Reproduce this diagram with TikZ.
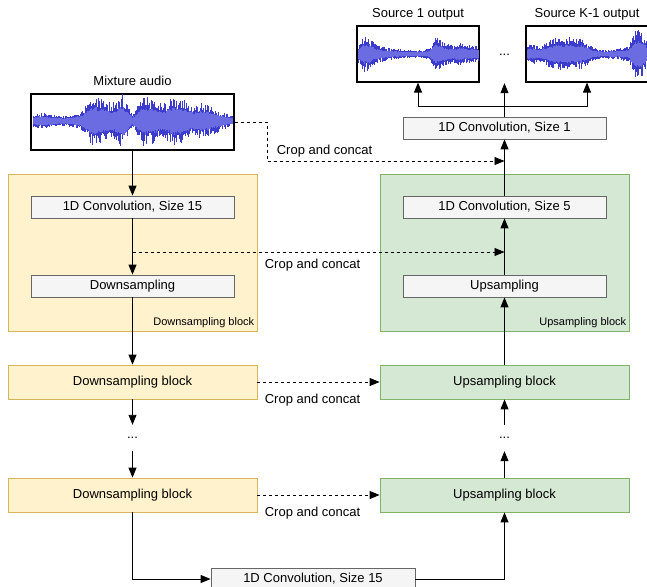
\documentclass[tikz,border=0pt]{standalone}
\usepackage{fontspec}
\setmainfont{Liberation Sans}
\usetikzlibrary{positioning, arrows.meta}

\definecolor{downfill}{HTML}{FFF2CC}
\definecolor{downline}{HTML}{D6B656}
\definecolor{upfill}{HTML}{D5E8D4}
\definecolor{upline}{HTML}{82B366}
\definecolor{convfill}{HTML}{F5F5F5}
\definecolor{convline}{HTML}{666666}
\definecolor{wavepeak}{HTML}{3C3CCC}
\definecolor{waverms}{HTML}{6C6CE2}

% 波形 (x0, x1, y, seed, 包絡線)
\newcommand{\audiowave}[5]{%
  \pgfmathsetseed{#4}
  \def\envlist{#5}
  \foreach \k in {0,...,200} {
    \pgfmathsetmacro{\t}{\k/10}
    \pgfmathtruncatemacro{\j}{min(floor(\t),19)}
    \pgfmathtruncatemacro{\jj}{\j+1}
    \pgfmathsetmacro{\f}{\t-\j}
    \pgfmathsetmacro{\ea}{\envlist[\j]}
    \pgfmathsetmacro{\eb}{\envlist[\jj]}
    \pgfmathsetmacro{\env}{1.3*(\ea*(1-\f)+\eb*\f)}
    \pgfmathsetmacro{\up}{\env*(0.5+0.5*rnd)}
    \pgfmathsetmacro{\dn}{\env*(0.5+0.5*rnd)}
    \pgfmathsetmacro{\ru}{\env*(0.42+0.15*rnd)}
    \pgfmathsetmacro{\rd}{\env*(0.42+0.15*rnd)}
    \pgfmathsetmacro{\xx}{#1+\k/200*(#2-#1)}
    \draw[wavepeak, line width=0.9pt] (\xx,#3-\up) -- (\xx,#3+\dn);
    \draw[waverms, line width=0.9pt] (\xx,#3-\ru) -- (\xx,#3+\rd);
  }
}

\begin{document}
\begin{tikzpicture}[x=1pt, y=-1pt, font=\fontsize{13}{15}\selectfont,
  conv/.style={draw=convline, fill=convfill, line width=0.8pt, minimum width=203pt, minimum height=22pt, inner sep=0pt},
  downarea/.style={draw=downline, fill=downfill, line width=0.8pt, minimum width=249pt, minimum height=157pt, inner sep=0pt},
  uparea/.style={draw=upline, fill=upfill, line width=0.8pt, minimum width=249pt, minimum height=157pt, inner sep=0pt},
  downrow/.style={downarea, minimum height=34pt},
  uprow/.style={uparea, minimum height=34pt},
  audio/.style={draw, line width=1.2pt, minimum height=56pt, inner sep=0pt},
  tag/.style={font=\fontsize{11}{13}\selectfont, anchor=south east, inner sep=3pt},
  dots/.style={minimum height=26pt, inner sep=0pt},
  flow/.style={-{Triangle[length=10pt,width=8pt]}, line width=0.9pt},
  skip/.style={flow, dash pattern=on 3pt off 3pt}]
  \useasboundingbox (0,0) rectangle (647,586);

  % 入力と出力
  \node[audio, minimum width=203pt] (mix) at (132.5,122) {};
  \node (mixlab) at (132.5,81) {Mixture audio};
  \node[audio, minimum width=122pt] (src1) at (418,54) {};
  \node (src1lab) at (418,14) {Source 1 output};
  \node[audio, minimum width=122pt] (srcK) at (587,54) {};
  \node (srcKlab) at (587,14) {Source K-1 output};
  \node[minimum height=56pt, inner sep=0pt] (odots) at (504.5,55) {...};
  \audiowave{33}{232}{121}{11}{{5,7,5,4,5,8,20,17,14,21,5,19,18,13,19,17,12,14,11,7,4}}
  \audiowave{358}{478}{54}{23}{{6,14,12,8,6,5,4,4,3,3,3,3,5,13,11,8,7,9,7,7,6}}
  \audiowave{527}{647}{54}{37}{{6,8,6,8,11,13,12,13,11,12,9,5,4,3,4,4,5,6,18,19,10}}

  % ダウンサンプリング側
  \node[downarea] (dblk) at (132.5,252.5) {};
  \node[tag] at (dblk.south east) {Downsampling block};
  \node[conv] (c15) at (132.5,207) {1D Convolution, Size 15};
  \node[conv] (down) at (132.5,286) {Downsampling};
  \node[downrow] (d1) at (132.5,382) {Downsampling block};
  \node[dots] (ddots) at (132.5,438) {...};
  \node[downrow] (d2) at (132.5,495) {Downsampling block};

  % アップサンプリング側
  \node[uparea] (ublk) at (504.5,252.5) {};
  \node[tag] at (ublk.south east) {Upsampling block};
  \node[conv] (c1) at (504.5,128) {1D Convolution, Size 1};
  \node[conv] (c5) at (504.5,207) {1D Convolution, Size 5};
  \node[conv] (up) at (504.5,286) {Upsampling};
  \node[uprow] (u1) at (504.5,382) {Upsampling block};
  \node[dots] (udots) at (504.5,438) {...};
  \node[uprow] (u2) at (504.5,495) {Upsampling block};

  \node[conv, minimum width=204pt] (c15b) at (313,579) {1D Convolution, Size 15};

  % 矢印
  \draw[flow] (mix) -- (c15);
  \draw[flow] (c15) -- (down);
  \draw[flow] (down) -- (d1);
  \draw[flow] (d1) -- (ddots);
  \draw[flow] (ddots) -- (d2);
  \draw[flow] (d2.south) |- (c15b.west);
  \draw[flow] (c15b.east) -| (u2.south);
  \draw[flow] (u2) -- (udots);
  \draw[flow] (udots) -- (u1);
  \draw[flow] (u1) -- (up);
  \draw[flow] (up) -- (c5);
  \draw[flow] (c5) -- (c1);

  \coordinate (split) at (504.5,106);
  \draw[line width=0.9pt] (c1) -- (split);
  \draw[flow] (split) -| (src1.south);
  \draw[flow] (split) -| (srcK.south);
  \draw[flow] (split) -- (odots);

  % Crop and concat
  \coordinate (bend) at (267,161);
  \coordinate (skipa) at (504.5,161);
  \coordinate (tap) at (132.5,252);
  \coordinate (skipb) at (504.5,252);
  \draw[skip] (mix.east) -| (bend) -- (skipa);
  \draw[skip] (tap) -- (skipb);
  \draw[skip] (d1) -- (u1);
  \draw[skip] (d2) -- (u2);
  \node (cc1) at (324.5,151) {Crop and concat};
  \node (cc2) at (312.5,265) {Crop and concat};
  \node (cc3) at (312.5,400) {Crop and concat};
  \node (cc4) at (312.5,513) {Crop and concat};
\end{tikzpicture}
\end{document}
